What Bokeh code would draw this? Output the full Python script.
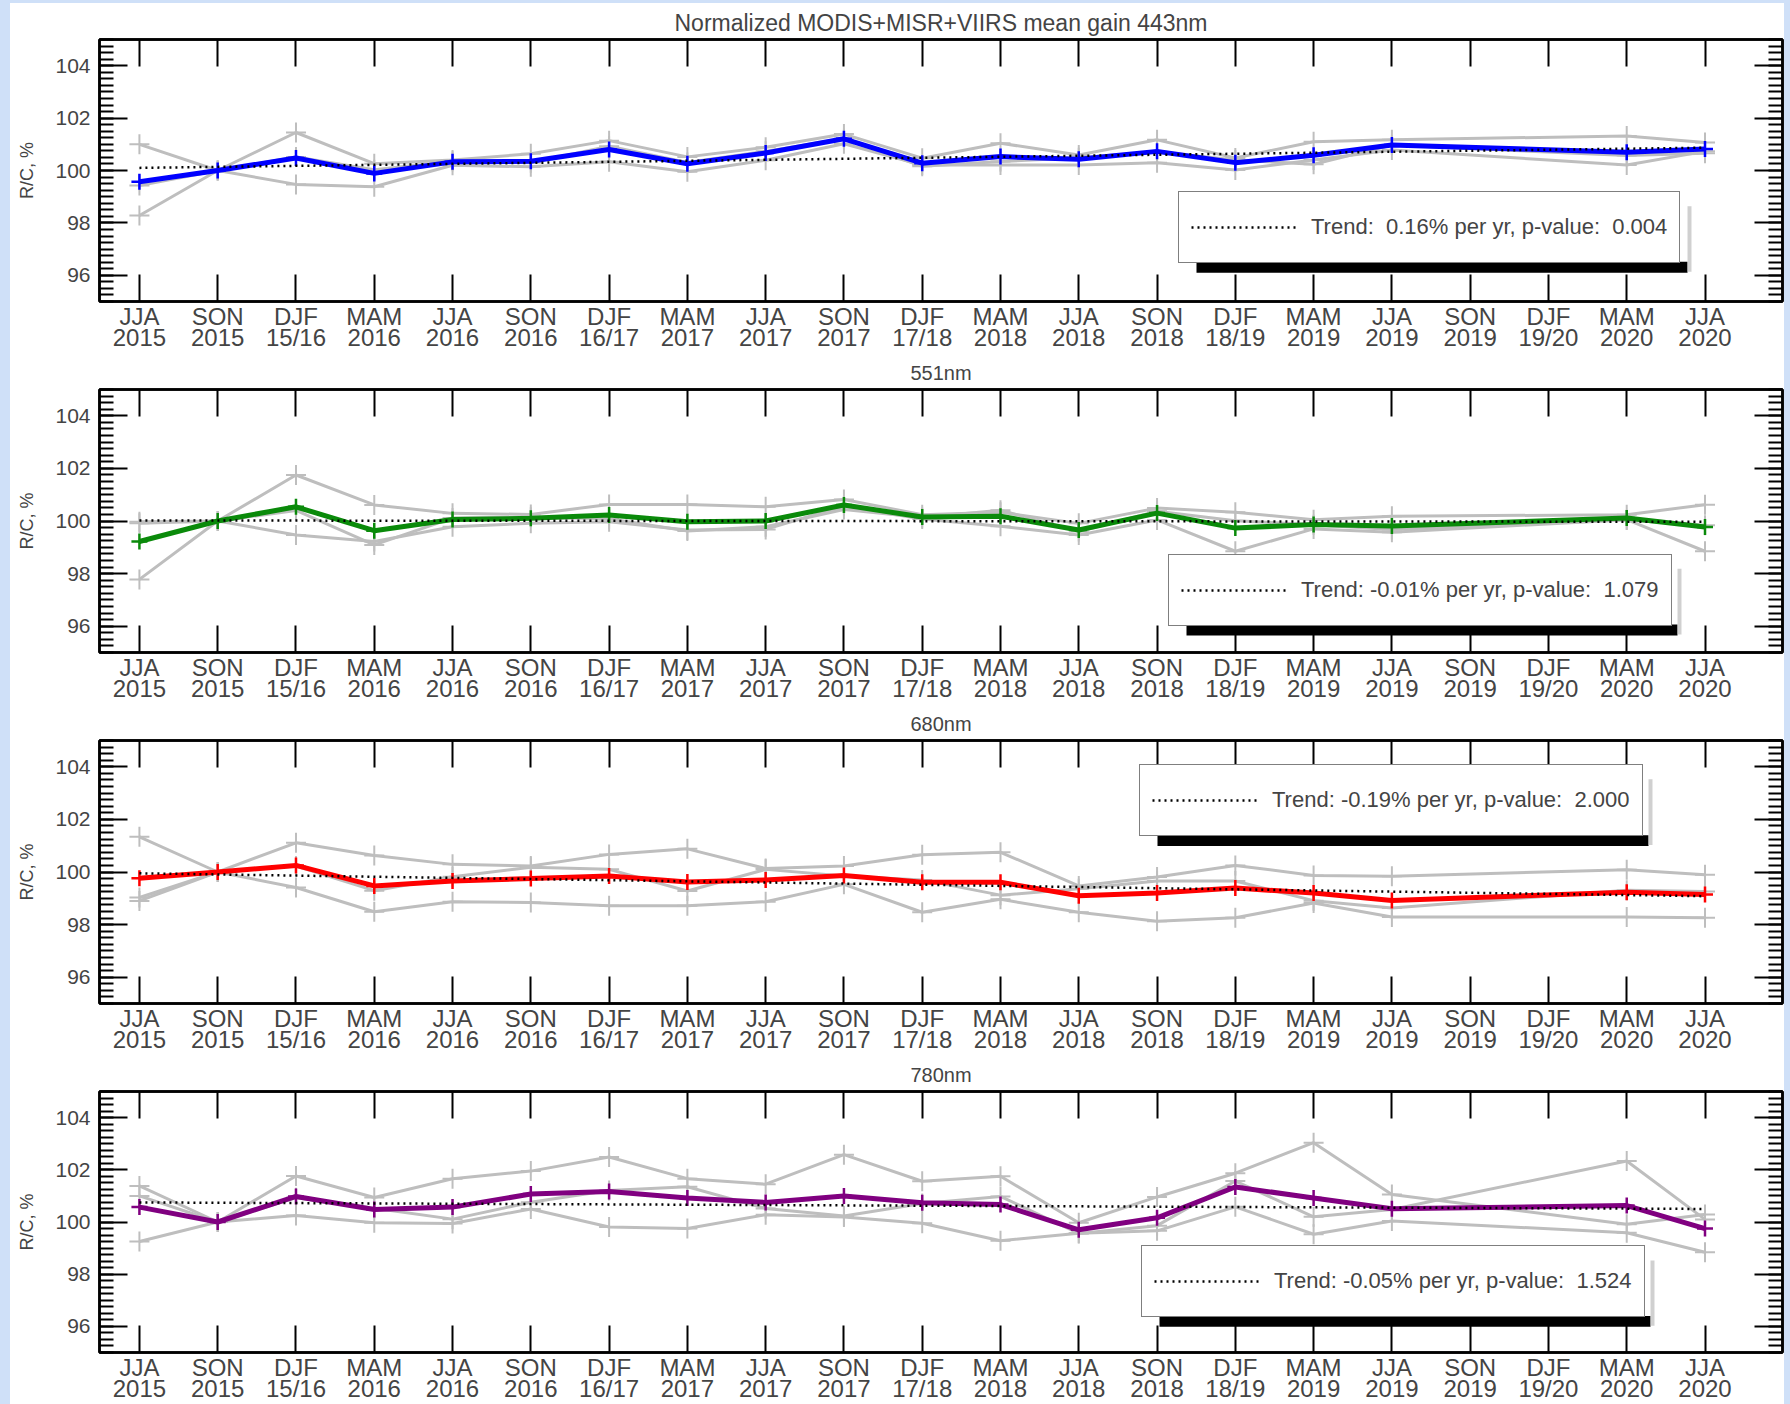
import numpy as np
from bokeh.plotting import figure
from bokeh.layouts import column, row
from bokeh.models import (FixedTicker, SingleIntervalTicker, LinearAxis, Legend, LegendItem,
                          BoxAnnotation, Range1d, Spacer, CustomLabelingPolicy)
from bokeh.embed import file_html
from bokeh.resources import INLINE

# ---------------- data ----------------
seasons = ["JJA", "SON", "DJF", "MAM", "JJA", "SON", "DJF", "MAM", "JJA", "SON", "DJF",
           "MAM", "JJA", "SON", "DJF", "MAM", "JJA", "SON", "DJF", "MAM", "JJA"]
years = ["2015", "2015", "15/16", "2016", "2016", "2016", "16/17", "2017", "2017", "2017", "17/18",
         "2018", "2018", "2018", "18/19", "2019", "2019", "2019", "19/20", "2020", "2020"]
N = None

# 443 nm
b443_mean = [99.57, 100.0, 100.48, 99.89, 100.33, 100.35, 100.80, 100.26, 100.67, 101.21, 100.28,
             100.53, 100.43, 100.73, 100.30, 100.58, 100.97, N, N, 100.70, 100.82]
b443_a = [101.0, 100.0, 101.45, 100.26, 100.40, 100.64, 101.14, 100.52, 100.89, 101.39, 100.47,
          101.04, 100.59, 101.17, 100.48, 101.10, 101.17, N, N, 101.32, 101.07]
b443_b = [98.28, 100.0, 99.47, 99.38, 100.20, 100.14, 100.33, 99.95, 100.39, 101.02, 100.21,
          100.21, 100.21, 100.30, 100.02, 100.40, 100.78, N, N, 100.21, 100.73]
b443_c = [99.43, 100.0, 100.52, 100.03, 100.35, 100.30, 100.93, 100.31, 100.73, 101.22, 100.16,
          100.34, 100.49, 100.72, 100.40, 100.24, 100.97, N, N, 100.57, 100.66]
b443_trend = [100.10, 100.87]

# 551 nm
b551_mean = [99.22, 100.0, 100.54, 99.63, 100.06, 100.10, 100.23, 99.97, 100.00, 100.61, 100.15,
             100.18, 99.66, 100.30, 99.73, 99.87, 99.81, N, N, 100.11, 99.77]
b551_a = [99.91, 100.0, 101.75, 100.61, 100.29, 100.25, 100.63, 100.63, 100.54, 100.82, 100.24,
          100.33, 99.91, 100.49, 100.33, 100.05, 100.18, N, N, 100.24, 100.62]
b551_b = [97.78, 100.0, 99.47, 99.22, 99.78, 99.91, 99.97, 99.66, 99.68, 100.57, 100.08,
          99.80, 99.47, 100.04, 98.85, 99.70, 99.57, N, N, 100.05, 98.85]
b551_c = [99.97, 100.0, 100.40, 99.09, 100.11, 100.14, 100.09, 99.62, 99.78, 100.44, 100.13,
          100.41, 99.60, 100.37, 100.01, 99.86, 99.68, N, N, 100.04, 99.84]
b551_trend = [100.02, 99.97]

# 680 nm
b680_mean = [99.76, 100.0, 100.25, 99.47, 99.66, 99.75, 99.85, 99.62, 99.70, 99.87, 99.61,
             99.61, 99.10, 99.20, 99.39, 99.20, 98.92, N, N, 99.23, 99.14]
b680_a = [101.34, 100.0, 101.11, 100.63, 100.29, 100.23, 100.67, 100.88, 100.13, 100.23, 100.66,
          100.75, 99.47, 99.81, 100.25, 99.87, 99.84, N, N, 100.09, 99.90]
b680_b = [98.90, 100.0, 99.41, 98.49, 98.87, 98.84, 98.72, 98.72, 98.87, 99.53, 98.47,
          98.96, 98.47, 98.13, 98.26, 98.82, 98.29, N, N, 98.29, 98.26]
b680_c = [99.03, 100.0, 100.23, 99.29, 99.82, 100.18, 100.10, 99.28, 100.10, 99.85, 99.70,
          99.12, 99.36, 99.66, 99.66, 98.91, 98.63, N, N, 99.31, 99.26]
b680_trend = [99.95, 99.08]

# 780 nm
b780_mean = [100.57, 100.0, 100.98, 100.48, 100.57, 101.07, 101.17, 100.92, 100.75, 101.00, 100.74,
             100.67, 99.70, 100.16, 101.34, 100.92, 100.51, N, N, 100.63, 99.75]
b780_a = [101.38, 100.0, 101.76, 100.94, 101.66, 101.95, 102.49, 101.66, 101.45, 102.58, 101.56,
          101.75, 99.97, 100.96, 101.87, 103.04, 101.05, N, N, 99.91, 100.29]
b780_b = [99.25, 100.0, 100.25, 99.97, 99.94, 100.50, 99.81, 99.75, 100.28, 100.19, 99.95,
          99.28, 99.57, 99.66, 100.58, 99.53, 100.04, N, N, 99.59, 98.84]
b780_c = [101.00, 100.0, 100.93, 100.53, 100.11, 100.76, 101.21, 101.35, 100.52, 100.23, 100.71,
          100.98, 99.56, 99.86, 101.57, 100.20, 100.48, N, N, 102.34, 100.10]
b780_trend = [100.75, 100.50]

titles = ["Normalized MODIS+MISR+VIIRS mean gain 443nm", "551nm", "680nm", "780nm"]
trend_labels = ["Trend:\u00a0 0.16% per yr, p-value:\u00a0 0.004",
                "Trend: -0.01% per yr, p-value:\u00a0 1.079",
                "Trend: -0.19% per yr, p-value:\u00a0 2.000",
                "Trend: -0.05% per yr, p-value:\u00a0 1.524"]

# ---------------- layout / style ----------------
FONT = "Liberation Sans, Helvetica, Arial, sans-serif"
FIG_W = 1774
BORDER_L, BORDER_R, BORDER_T = 89, 2, 36
FRAME_W, FRAME_H = FIG_W - BORDER_L - BORDER_R, 264
X0, X1 = -0.51, 20.99
Y0, Y1 = 95, 105
GRAY = "#bebebe"
BG = "#cfe0f8"
TOP_PAD = 3

fig_heights = [350, 351, 351, 349]
title_sizes = ["23px", "20px", "20px", "20px"]
title_standoffs = [8, 11, 11, 11]
legend_pos = [(1079, 38), (1069, 26), (1040, 167), (1042, 35)]
LEG_W, LEG_H = 510, 70
colors = ["#0000ff", "#0a8a0a", "#ff0000", "#800080"]

panels = [
    (b443_mean, [b443_a, b443_b, b443_c], b443_trend),
    (b551_mean, [b551_a, b551_b, b551_c], b551_trend),
    (b680_mean, [b680_a, b680_b, b680_c], b680_trend),
    (b780_mean, [b780_a, b780_b, b780_c], b780_trend),
]


def valid(vals):
    xs = [i for i, v in enumerate(vals) if v is not None]
    ys = [v for v in vals if v is not None]
    return xs, ys


def px2x(px):
    return X0 + px * (X1 - X0) / FRAME_W


def px2y(py):
    return Y0 + py * (Y1 - Y0) / FRAME_H


def style_ticks(ax, tin, minor_in=0):
    ax.major_tick_in = tin
    ax.major_tick_out = 0
    ax.minor_tick_in = minor_in
    ax.minor_tick_out = 0
    ax.major_tick_line_color = "black"
    ax.major_tick_line_width = 2
    ax.minor_tick_line_color = "black" if minor_in else None
    ax.minor_tick_line_width = 2
    ax.axis_line_color = "black"
    ax.axis_line_width = 2.5


def hide_labels(ax):
    ax.major_label_policy = CustomLabelingPolicy(code="return []")
    ax.major_label_standoff = 0
    ax.major_label_text_font_size = "0px"


figs = []
x_idx = list(range(len(seasons)))
for k, (mean, grays, trend) in enumerate(panels):
    h = fig_heights[k]
    p = figure(width=FIG_W, height=h, output_backend="svg", toolbar_location=None,
               x_range=Range1d(X0, X1), y_range=Range1d(Y0, Y1),
               min_border_left=BORDER_L, min_border_right=BORDER_R,
               min_border_top=BORDER_T, min_border_bottom=h - BORDER_T - FRAME_H,
               title=titles[k])
    p.title.align = "center"
    p.title.text_font = FONT
    p.title.text_font_size = title_sizes[k]
    p.title.text_font_style = "normal"
    p.title.standoff = title_standoffs[k]
    p.grid.visible = False
    p.background_fill_color = "white"
    p.border_fill_color = "white"
    p.outline_line_color = "black"
    p.outline_line_width = 2.5

    # bottom axis
    xa = p.xaxis[0]
    xa.ticker = FixedTicker(ticks=x_idx)
    xa.major_label_overrides = {i: f"{seasons[i]}\n{years[i]}" for i in x_idx}
    xa.major_label_text_font = FONT
    xa.major_label_text_font_size = "24px"
    xa.major_label_text_line_height = 0.78
    xa.major_label_standoff = 1
    style_ticks(xa, 27)

    # left axis
    ya = p.yaxis[0]
    ya.ticker = SingleIntervalTicker(interval=2, num_minor_ticks=8)
    ya.major_label_text_font = FONT
    ya.major_label_text_font_size = "21px"
    ya.major_label_standoff = 9
    ya.axis_label = "R/C, %"
    ya.axis_label_text_font = FONT
    ya.axis_label_text_font_size = "18px"
    ya.axis_label_text_font_style = "normal"
    ya.axis_label_standoff = 15
    style_ticks(ya, 28, 14)

    # top and right axes (ticks only)
    ta = LinearAxis(ticker=FixedTicker(ticks=x_idx))
    hide_labels(ta)
    style_ticks(ta, 27)
    p.add_layout(ta, "above")
    ra = LinearAxis(ticker=SingleIntervalTicker(interval=2, num_minor_ticks=8))
    hide_labels(ra)
    style_ticks(ra, 28, 14)
    p.add_layout(ra, "right")

    # gray individual-sensor series
    for g in grays:
        gx, gy = valid(g)
        p.line(gx, gy, line_color=GRAY, line_width=3)
        p.scatter(gx, gy, marker="cross", size=20, line_color=GRAY, line_width=2)

    # mean series
    mx, my = valid(mean)
    p.line(mx, my, line_color=colors[k], line_width=5)
    p.scatter(mx, my, marker="cross", size=16, line_color=colors[k], line_width=2.5)

    # trend
    tr = p.line([x_idx[0], x_idx[-1]], trend, line_color="black", line_width=2.5,
                line_dash="2 4")

    # legend shadow
    lx, ly = legend_pos[k]
    p.add_layout(BoxAnnotation(left=px2x(lx + 18), right=px2x(lx + LEG_W - 1),
                               bottom=px2y(ly - 9), top=px2y(ly + 2),
                               fill_color="black", fill_alpha=1, line_color=None))
    p.add_layout(BoxAnnotation(left=px2x(lx + LEG_W - 1), right=px2x(lx + LEG_W + 3),
                               bottom=px2y(ly - 8), top=px2y(ly + LEG_H - 12),
                               fill_color="#c4c4c4", fill_alpha=0.8, line_color=None))
    leg = Legend(items=[LegendItem(label=trend_labels[k], renderers=[tr])],
                 location=(lx, ly), margin=0, padding=12, spacing=0,
                 glyph_width=106, glyph_height=46, label_standoff=14,
                 label_text_font=FONT, label_text_font_size="22px",
                 border_line_color="black", border_line_width=1.5,
                 background_fill_color="white", background_fill_alpha=1.0)
    p.add_layout(leg)
    figs.append(p)

top_pad = Spacer(width=FIG_W, height=TOP_PAD, styles={"background-color": BG})
left_pad = Spacer(width=10, height=1404, styles={"background-color": BG})
right_pad = Spacer(width=6, height=1404, styles={"background-color": BG})
layout = row(left_pad, column(top_pad, *figs, spacing=0, styles={"background-color": "white"}),
             right_pad, spacing=0, styles={"background-color": BG})

open("out.html", "w").write(file_html(layout, INLINE, title="Normalized gain"))
